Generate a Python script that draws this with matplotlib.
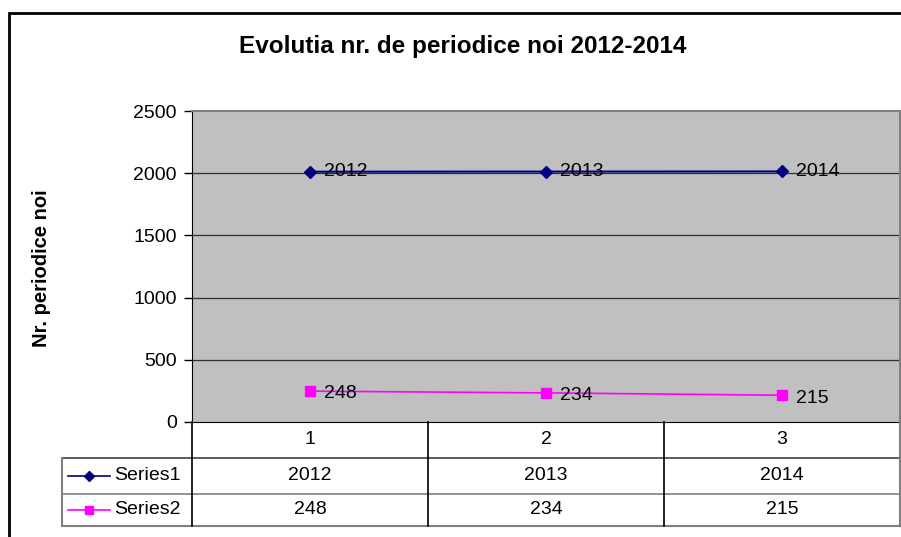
import matplotlib.pyplot as plt
from matplotlib.lines import Line2D
from matplotlib.patches import Rectangle

plt.rcParams['font.family'] = ['Liberation Sans', 'DejaVu Sans']

TITLE = "Evolutia nr. de periodice noi 2012-2014"
Y_LABEL = "Nr. periodice noi"
categories = ["1", "2", "3"]
series_names = ["Series1", "Series2"]
series1 = [2012, 2013, 2014]
series2 = [248, 234, 215]
y_ticks = [0, 500, 1000, 1500, 2000, 2500]

W, H = 901, 537
FS = 14
fig = plt.figure(figsize=(W / 100, H / 100), dpi=100)


def fx(px):
    return px / W


def fy(py):
    return 1 - py / H


# outer chart border (cropped on right/bottom)
fig.patches.append(Rectangle((fx(9), fy(560)), fx(1000), fy(13) - fy(560),
                             transform=fig.transFigure, fill=False,
                             edgecolor="black", linewidth=2))

left, right, top, bottom = 192, 900, 111, 422
ax = fig.add_axes([fx(left), fy(bottom), fx(right - left), fy(top) - fy(bottom)])
ax.set_facecolor("#c0c0c0")
ax.set_xlim(0.5, len(categories) + 0.5)
ax.set_ylim(0, 2500)
ax.set_yticks(y_ticks)
ax.set_yticklabels([str(v) for v in y_ticks], fontsize=FS)
ax.tick_params(axis="y", length=6, width=1, pad=5, color="black")
ax.set_xticks([])
for v in y_ticks[1:-1]:
    ax.axhline(v, color="#303030", linewidth=0.9, zorder=1)
for s in ["top", "right"]:
    ax.spines[s].set_color("#808080")
    ax.spines[s].set_linewidth(1.5)
ax.spines["left"].set_color("black")
ax.spines["bottom"].set_color("black")

x = list(range(1, len(categories) + 1))
ax.plot(x, series1, color="#000080", marker="D", markersize=6, linewidth=1.5, zorder=3)
ax.plot(x, series2, color="#ff00ff", marker="s", markersize=7, linewidth=1.2, zorder=3)
for xi, v in zip(x, series1):
    ax.annotate(str(v), (xi, v), xytext=(10, 0), textcoords="offset points",
                va="center", ha="left", fontsize=FS)
for xi, v in zip(x, series2):
    ax.annotate(str(v), (xi, v), xytext=(10, -2), textcoords="offset points",
                va="center", ha="left", fontsize=FS)

fig.text(fx(463), fy(46), TITLE, ha="center", va="center", fontsize=17.5, fontweight="bold")
fig.text(fx(42), fy(268), Y_LABEL, ha="center", va="center", rotation=90,
         fontsize=14.5, fontweight="bold")

# data table below the plot
row_tops = [422, 458, 494, 526]
leg_left = 62
col_w = (right - left) / len(categories)
col_edges = [left + i * col_w for i in range(len(categories) + 1)]


def hline(x0, x1, y, color, lw=1.2):
    fig.add_artist(Line2D([fx(x0), fx(x1)], [fy(y), fy(y)], color=color, linewidth=lw))


def vline(xp, y0, y1, color, lw=1.2):
    fig.add_artist(Line2D([fx(xp), fx(xp)], [fy(y0), fy(y1)], color=color, linewidth=lw))


hline(leg_left, right, row_tops[1], "#404040")
hline(leg_left, right, row_tops[2], "#808080")
hline(leg_left, right, row_tops[3], "#808080", 1.5)
vline(leg_left, row_tops[1], row_tops[3], "#808080", 1.5)
for ce in col_edges[:-1]:
    vline(ce, row_tops[0], row_tops[3], "black")
vline(right, row_tops[0], row_tops[3], "#808080", 1.5)

for i, c in enumerate(categories):
    cx = (col_edges[i] + col_edges[i + 1]) / 2
    fig.text(fx(cx), fy((row_tops[0] + row_tops[1]) / 2), c, ha="center", va="center", fontsize=FS)
    fig.text(fx(cx), fy((row_tops[1] + row_tops[2]) / 2), str(series1[i]), ha="center", va="center", fontsize=FS)
    fig.text(fx(cx), fy((row_tops[2] + row_tops[3]) / 2), str(series2[i]), ha="center", va="center", fontsize=FS)

styles = [("#000080", "D", 5), ("#ff00ff", "s", 6)]
for r, (name, (col, mk, ms)) in enumerate(zip(series_names, styles)):
    yc = fy((row_tops[r + 1] + row_tops[r + 2]) / 2)
    fig.add_artist(Line2D([fx(68), fx(110)], [yc, yc], color=col, linewidth=1.2))
    fig.add_artist(Line2D([fx(89)], [yc], color=col, marker=mk, markersize=ms, linestyle="none"))
    fig.text(fx(114), yc, name, ha="left", va="center", fontsize=FS)

fig.savefig("out.png", dpi=100)
